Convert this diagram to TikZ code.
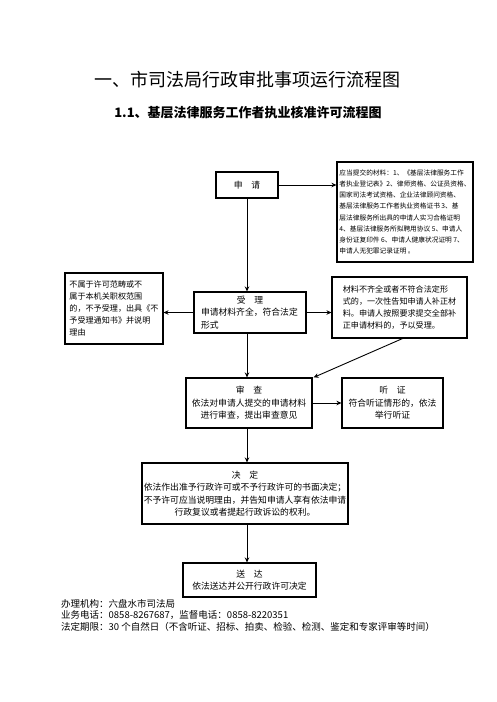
\documentclass[tikz,border=0pt]{standalone}
\usepackage{fontspec}
\setmainfont{Noto Sans CJK SC}
\usetikzlibrary{arrows.meta}

\newcommand{\boxfont}{\fontsize{8.8}{12.4}\selectfont}
\newcommand{\sideboxfont}{\fontsize{8.1}{12}\selectfont}
\newcommand{\smallboxfont}{\fontsize{6.7}{11.2}\selectfont}

\begin{document}
\begin{tikzpicture}[x=1pt, y=-1pt, >={Stealth[length=5pt, width=4.5pt]},
    flowbox/.style={draw, line width=1.1pt, inner sep=0pt, font=\boxfont},
    flowline/.style={->, line width=0.9pt}]
    % Page frame
    \useasboundingbox (0,0) rectangle (496,702);
    \fill[white] (0,0) rectangle (496,702);

    % Titles
    \node (title) at (247.5,80) {\fontsize{18}{20}\selectfont 一、市司法局行政审批事项运行流程图};
    \node (subtitle) at (248,112.5) {\fontsize{13}{15}\selectfont\bfseries 1.1、基层法律服务工作者执业核准许可流程图};

    % Main column
    \node[flowbox, minimum width=62pt, minimum height=26pt] (shenqing) at (247,185) {申\quad 请};
    \node[flowbox, minimum width=112pt, minimum height=41pt, align=left]
        (shouli) at (250,312.5) {\makebox[98pt]{受\quad 理}\\申请材料齐全，符合法定\\形式};
    \node[flowbox, minimum width=126pt, minimum height=50pt, align=center]
        (shencha) at (249,403) {审\quad 查\\依法对申请人提交的申请材料\\进行审查，提出审查意见};
    \node[flowbox, minimum width=206pt, minimum height=61pt, align=center]
        (jueding) at (245,493.5) {决\quad 定\\依法作出准予行政许可或不予行政许可的书面决定；\\
        不予许可应当说明理由，并告知申请人享有依法申请\\行政复议或者提起行政诉讼的权利。};
    \node[flowbox, minimum width=133pt, minimum height=34pt, align=center]
        (songda) at (249.5,580) {送\quad 达\\依法送达并公开行政许可决定};

    % Side boxes
    \node[flowbox, font=\smallboxfont, minimum width=136pt, minimum height=100pt, align=left]
        (cailiao) at (405,212) {应当提交的材料：1、《基层法律服务工作\\
        者执业登记表》2、律师资格、公证员资格、\\
        国家司法考试资格、企业法律顾问资格、\\
        基层法律服务工作者执业资格证书~3、基\\
        层法律服务所出具的申请人实习合格证明\\
        4、基层法律服务所拟聘用协议~5、申请人\\
        身份证复印件~6、申请人健康状况证明~7、\\
        申请人无犯罪记录证明~。};
    \node[flowbox, font=\sideboxfont, minimum width=98pt, minimum height=71pt, align=left]
        (bushouli) at (114,308.5) {不属于许可范畴或不\\属于本机关职权范围\\的，不予受理，出具《不\\予受理通知书》并说明\\理由};
    \node[flowbox, font=\sideboxfont, minimum width=135pt, minimum height=61pt, align=left]
        (buzheng) at (399.5,307.5) {材料不齐全或者不符合法定形\\式的，一次性告知申请人补正材\\料。申请人按照要求提交全部补\\正申请材料的，予以受理。};
    \node[flowbox, minimum width=101pt, minimum height=50pt, align=center]
        (tingzheng) at (392.5,403) {听\quad 证\\符合听证情形的，依法\\举行听证};

    % Connectors
    \draw[flowline] (shenqing.east) -- (shenqing.east -| cailiao.west);
    \draw[flowline] (shenqing.south) -- (shenqing.south |- shouli.north);
    \draw[flowline] (shouli.west) -- (shouli.west -| bushouli.east);
    \draw[flowline] (shouli.east) -- (shouli.east -| buzheng.west);
    \draw[flowline] (shouli.south -| shenqing) -- (shenqing |- shencha.north);
    \draw[flowline] ([xshift=3pt]buzheng.south) -- ([xshift=1pt]shencha.north east);
    \draw[flowline] (shencha.east) -- (shencha.east -| tingzheng.west);
    \draw[flowline] (shencha.south -| shenqing) -- (shenqing |- jueding.north);
    \draw[flowline] (jueding.south -| shenqing) -- (shenqing |- songda.north);

    % Footer
    \node[anchor=north west, align=left, inner sep=0pt, font=\fontsize{9.5}{11.6}\selectfont]
        (footer) at (61,599) {办理机构：六盘水市司法局\\
        业务电话：0858-8267687，监督电话：0858-8220351\\
        法定期限：30 个自然日（不含听证、招标、拍卖、检验、检测、鉴定和专家评审等时间）};
\end{tikzpicture}
\end{document}
